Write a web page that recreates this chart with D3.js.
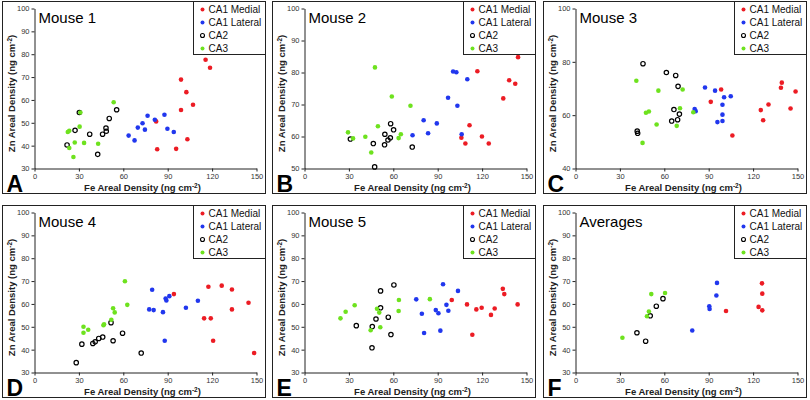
<!DOCTYPE html>
<html>
<head>
  <title>Fe vs Zn</title>
  <style type="text/css">
    body { margin: 0; background: #fff; }
    text { font-family: "Liberation Sans", Arial, sans-serif; }
  </style>
</head>
<body>
  <div id="chart"></div>
  <script type="text/javascript" src="https://cdn.jsdelivr.net/npm/d3@7"></script>
  <script type="text/javascript">
    // [Fe, Zn] pairs
    var m1Medial = [[115.6, 77.6], [118.6, 74.1], [99, 68.9], [102.6, 63.4], [99, 55.6], [107.1, 57.9], [82.2, 50.6], [103.3, 42.8], [82.9, 38.4], [95.7, 38.6]];
    var m1Lateral = [[76.4, 53.1], [87.8, 53.5], [81.3, 51.3], [73, 49.8], [69.8, 47.9], [74.6, 47], [89.8, 47.4], [94.1, 46], [63.6, 44.4], [67.6, 42.3]];
    var m1CA2 = [[30.3, 54.5], [55.5, 55.7], [50.5, 51.9], [27.4, 46.7], [48.3, 47.7], [48.5, 46.3], [46, 45], [37.3, 45], [22, 40.3], [42.7, 36.2]];
    var m1CA3 = [[53.5, 59], [31, 54.5], [30.5, 48.3], [22.5, 46], [23.5, 46.5], [23.5, 39], [26.3, 35], [27.2, 41.4], [33.5, 41.2], [43, 40.8]];

    var m2Medial = [[144.3, 84.8], [138.3, 77.6], [142.4, 76.5], [116.8, 80.4], [134.3, 71.9], [111.5, 63.5], [106, 59.6], [119.9, 60], [108.7, 57.8], [124.5, 57.8]];
    var m2Lateral = [[100.4, 80.3], [102.6, 80.1], [110, 77.9], [97, 72.1], [103.3, 69.6], [80.5, 65.1], [89.4, 64.1], [83.5, 61], [73, 60.4], [106.2, 60.7]];
    var m2CA2 = [[31, 59.2], [46.5, 57.8], [54.3, 60.7], [58.2, 64], [60.2, 62.1], [56.4, 58.9], [58, 59.6], [54.1, 57.4], [72.8, 56.7], [47.4, 50.5]];
    var m2CA3 = [[47.6, 81.6], [59, 72.5], [71.6, 69.6], [49.6, 63.2], [29.4, 61.3], [32.8, 59.4], [41.1, 59.9], [65.1, 60.7], [63.6, 59.5], [45.1, 55]];

    var m3Medial = [[139.4, 72.2], [138.8, 70.3], [148.7, 68.9], [98.4, 69.6], [91.4, 65], [130.4, 64], [125.2, 61.9], [145.3, 62.5], [126.8, 58.1], [106, 52.4]];
    var m3Lateral = [[87.5, 70.4], [94.3, 69.2], [100.4, 66.7], [104.9, 67.1], [99.3, 63.9], [80.5, 62.3], [81.2, 61.5], [99.3, 60.2], [95.9, 57.4], [99.3, 57.8]];
    var m3CA2 = [[45.6, 79.3], [61.4, 76], [67.7, 74.9], [69.3, 70.8], [66.5, 62.1], [70.2, 60.4], [65, 57.8], [69, 58.3], [41.7, 54], [42, 53.2]];
    var m3CA3 = [[41.1, 72.9], [56, 69.2], [72.4, 69.6], [70.6, 62.6], [47.6, 60.9], [49.6, 61.4], [79.6, 61.1], [54.8, 56.5], [68.4, 56], [45.3, 49.6]];

    var m4Medial = [[126.5, 68], [117.5, 67.5], [133.4, 66.3], [94.2, 64.3], [144.6, 60.5], [133.4, 57.6], [114.6, 53.7], [119.1, 53.7], [120.7, 43.9], [148.4, 38.5]];
    var m4Lateral = [[79.5, 66.2], [88.6, 62.4], [89.1, 61.5], [91.1, 63.4], [110.4, 61.4], [77.5, 57.6], [80.5, 57.3], [86.8, 56.4], [102.3, 58.3], [88, 43.9]];
    var m4CA2 = [[28.2, 34.3], [32, 42.4], [39.4, 42.7], [41, 43.4], [43.4, 44.9], [46.1, 45.5], [51.7, 51.8], [53.1, 43.9], [59.5, 47.2], [72.1, 38.5]];
    var m4CA3 = [[61.1, 69.9], [62.7, 59.6], [53.1, 58.1], [54.2, 56.3], [51.9, 53.1], [46.6, 50.7], [47, 51.1], [33.1, 50], [36.3, 48.7], [33.1, 47.4]];

    var m5Medial = [[134, 66.6], [135, 64.3], [144, 59.8], [99.5, 61.7], [109.8, 59.8], [116.1, 57.6], [119.7, 58.3], [128.5, 58], [126, 55.2], [113.4, 46.5]];
    var m5Lateral = [[93.6, 68.6], [103.7, 65.7], [75.5, 62], [95.9, 59.6], [88.7, 57.3], [97.2, 57], [90.5, 55.9], [79.3, 55.7], [80.8, 47.3], [91.8, 48.3]];
    var m5CA2 = [[60.4, 68.3], [51.4, 65.7], [51.4, 58.3], [56.6, 54.2], [48.3, 53.4], [35, 50.5], [45.8, 50.1], [58.4, 46.6], [45.6, 40.8]];
    var m5CA3 = [[24.3, 53.7], [27.8, 56.6], [33.9, 59.4], [63.8, 61.7], [84.7, 62.1], [49, 57.9], [50.5, 56.2], [63.6, 56.9], [51.2, 49.8], [44.7, 48.5]];

    var avMedial = [[126, 69], [126.2, 64.5], [123.7, 58.7], [126.2, 57.2], [101.7, 56.9]];
    var avLateral = [[95.6, 69.2], [95.2, 63.7], [90.4, 59], [90.6, 57.8], [78.9, 48.4]];
    var avCA2 = [[59.1, 62.3], [54.6, 59], [50.5, 54.8], [41.5, 47.4], [47.4, 43.7]];
    var avCA3 = [[51.2, 64.3], [60.5, 64.8], [49.6, 56.7], [48.3, 54.6], [31.7, 45.2]];

    var seriesNames = ["CA1 Medial", "CA1 Lateral", "CA2", "CA3"];
    var seriesColors = ["#ec1c24", "#2137ee", "#000000", "#6ee21e"];
    var titles = ["Mouse 1", "Mouse 2", "Mouse 3", "Mouse 4", "Mouse 5", "Averages"];
    var letters = ["A", "B", "C", "D", "E", "F"];
    var xTicks = [0, 30, 60, 90, 120, 150];
    var yTicks1 = [30, 40, 50, 60, 70, 80, 90, 100];
    var yTicks2 = [50, 60, 70, 80, 90, 100];
    var yTicks3 = [40, 60, 80, 100];

    var panels = [
      { data: [m1Medial, m1Lateral, m1CA2, m1CA3], yTicks: yTicks1 },
      { data: [m2Medial, m2Lateral, m2CA2, m2CA3], yTicks: yTicks2 },
      { data: [m3Medial, m3Lateral, m3CA2, m3CA3], yTicks: yTicks3 },
      { data: [m4Medial, m4Lateral, m4CA2, m4CA3], yTicks: yTicks1 },
      { data: [m5Medial, m5Lateral, m5CA2, m5CA3], yTicks: yTicks1 },
      { data: [avMedial, avLateral, avCA2, avCA3], yTicks: yTicks1 }
    ];

    var W = 810, H = 400,
      pw = 263, ph = 192,
      colX = [2, 272, 543],
      rowY = [1, 205],
      plot = { left: 32, right: 254, top: 7, bottom: 167 };

    var svg = d3.select("#chart").append("svg")
      .attr("width", W)
      .attr("height", H);

    panels.forEach(function (p, i) {
      var g = svg.append("g")
        .attr("transform", "translate(" + (colX[i % 3] + 0.5) + "," + (rowY[Math.floor(i / 3)] + 0.5) + ")");

      g.append("rect")
        .attr("width", pw)
        .attr("height", ph)
        .attr("fill", "#fff")
        .attr("stroke", "#222")
        .attr("stroke-width", 1);

      var x = d3.scaleLinear().domain([0, 150]).range([plot.left, plot.right]);
      var y = d3.scaleLinear().domain(d3.extent(p.yTicks)).range([plot.bottom, plot.top]);

      var xAxis = g.append("g")
        .attr("transform", "translate(0," + plot.bottom + ")")
        .call(d3.axisBottom(x).tickValues(xTicks).tickSize(3).tickPadding(2).tickSizeOuter(0));
      var yAxis = g.append("g")
        .attr("transform", "translate(" + plot.left + ",0)")
        .call(d3.axisLeft(y).tickValues(p.yTicks).tickSize(3).tickPadding(2).tickSizeOuter(0));
      [xAxis, yAxis].forEach(function (a) {
        a.select(".domain").attr("stroke", "#222");
        a.selectAll(".tick line").attr("stroke", "#222");
        a.selectAll(".tick text")
          .attr("fill", "#333")
          .style("font-family", "'Liberation Sans', Arial, sans-serif")
          .style("font-size", "7.5px");
      });

      // axis titles
      var yt = g.append("text")
        .attr("transform", "translate(12," + 92 + ") rotate(-90)")
        .attr("text-anchor", "middle")
        .style("font-size", "9.5px")
        .style("font-weight", "bold")
        .attr("fill", "#222");
      yt.append("tspan").text("Zn Areal Density (ng cm");
      yt.append("tspan").attr("dy", -3).style("font-size", "6.5px").text("-2");
      yt.append("tspan").attr("dy", 3).text(")");

      var xt = g.append("text")
        .attr("x", 140)
        .attr("y", 189)
        .attr("text-anchor", "middle")
        .style("font-size", "9.5px")
        .style("font-weight", "bold")
        .attr("fill", "#222");
      xt.append("tspan").text("Fe Areal Density (ng cm");
      xt.append("tspan").attr("dy", -3).style("font-size", "6.5px").text("-2");
      xt.append("tspan").attr("dy", 3).text(")");

      g.append("text")
        .attr("x", 4)
        .attr("y", 190)
        .style("font-size", "23px")
        .style("font-weight", "bold")
        .text(letters[i]);

      g.append("text")
        .attr("x", 36)
        .attr("y", 21)
        .style("font-size", "15px")
        .text(titles[i]);

      // points
      p.data.forEach(function (s, k) {
        g.append("g").selectAll("circle")
          .data(s)
          .enter().append("circle")
          .attr("cx", function (d) { return x(d[0]); })
          .attr("cy", function (d) { return y(d[1]); })
          .attr("r", k == 2 ? 2.2 : 2.3)
          .attr("fill", k == 2 ? "none" : seriesColors[k])
          .attr("stroke", k == 2 ? "#000" : "none")
          .attr("stroke-width", 1.2);
      });

      // legend
      var lg = g.append("g").attr("transform", "translate(" + (pw - 72) + ",0)");
      lg.append("rect")
        .attr("width", 72)
        .attr("height", 53)
        .attr("fill", "#fff")
        .attr("stroke", "#222");
      seriesNames.forEach(function (n, k) {
        var cy = 8 + k * 13;
        lg.append("circle")
          .attr("cx", 9)
          .attr("cy", cy)
          .attr("r", 2)
          .attr("fill", k == 2 ? "none" : seriesColors[k])
          .attr("stroke", k == 2 ? "#000" : "none")
          .attr("stroke-width", 1.1);
        lg.append("text")
          .attr("x", 15)
          .attr("y", cy + 3.5)
          .style("font-size", "10px")
          .attr("fill", "#111")
          .text(n);
      });
    });
  </script>
</body>
</html>
